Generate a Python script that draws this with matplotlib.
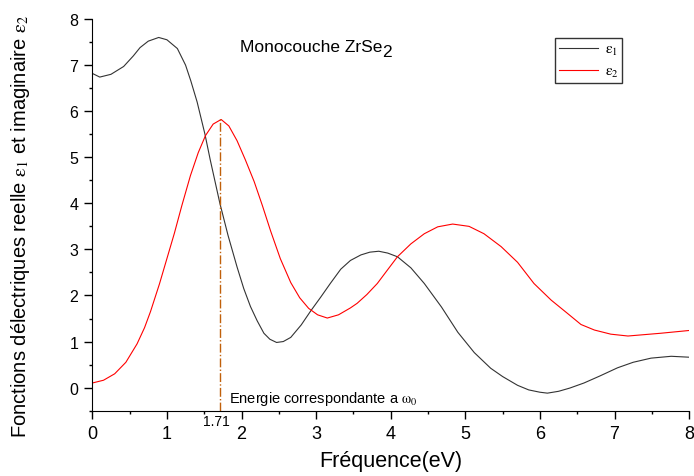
import matplotlib
matplotlib.use('Agg')
from matplotlib import pyplot as plt

plt.rcParams['font.family'] = ['Liberation Sans', 'DejaVu Sans']
plt.rcParams['mathtext.fontset'] = 'stix'

# epsilon 1 (real part)
e1_x = [0, 0.1, 0.25, 0.42, 0.55, 0.64, 0.75, 0.89, 1.0, 1.14, 1.25, 1.32, 1.405, 1.51, 1.58,
        1.71, 1.82, 1.94, 2.03, 2.12, 2.21, 2.3, 2.38, 2.47, 2.56, 2.66, 2.8, 2.93, 3.06, 3.19,
        3.33, 3.46, 3.6, 3.72, 3.84, 3.96, 4.09, 4.27, 4.45, 4.68, 4.9, 5.12, 5.34, 5.5, 5.7,
        5.85, 6.0, 6.1, 6.25, 6.4, 6.59, 6.8, 7.04, 7.25, 7.49, 7.76, 8.0]
e1_y = [6.82, 6.74, 6.8, 6.97, 7.2, 7.38, 7.52, 7.6, 7.55, 7.36, 7.0, 6.66, 6.2, 5.5, 4.95,
        4.0, 3.3, 2.62, 2.15, 1.76, 1.45, 1.18, 1.05, 0.98, 1.0, 1.09, 1.36, 1.67, 1.96, 2.26,
        2.57, 2.76, 2.88, 2.94, 2.96, 2.92, 2.84, 2.6, 2.26, 1.75, 1.2, 0.76, 0.42, 0.24, 0.05,
        -0.05, -0.1, -0.12, -0.08, -0.01, 0.1, 0.25, 0.43, 0.55, 0.64, 0.68, 0.66]

# epsilon 2 (imaginary part)
e2_x = [0, 0.15, 0.3, 0.45, 0.6, 0.7, 0.78, 0.9, 1.0, 1.1, 1.2, 1.315, 1.42, 1.517, 1.62,
        1.727, 1.83, 1.94, 2.05, 2.17, 2.28, 2.39, 2.52, 2.66, 2.78, 2.9, 3.02, 3.15, 3.3,
        3.46, 3.55, 3.68, 3.82, 3.95, 4.09, 4.27, 4.45, 4.63, 4.83, 5.05, 5.25, 5.48, 5.7,
        5.92, 6.15, 6.37, 6.55, 6.73, 6.95, 7.18, 7.4, 7.62, 8.0]
e2_y = [0.1, 0.16, 0.3, 0.55, 0.95, 1.3, 1.65, 2.25, 2.8, 3.35, 3.95, 4.6, 5.1, 5.47, 5.72,
        5.82, 5.68, 5.36, 4.95, 4.47, 3.95, 3.4, 2.8, 2.28, 1.95, 1.72, 1.58, 1.51, 1.58,
        1.73, 1.83, 2.02, 2.26, 2.54, 2.84, 3.12, 3.34, 3.49, 3.55, 3.5, 3.34, 3.06, 2.72,
        2.26, 1.9, 1.61, 1.37, 1.25, 1.16, 1.12, 1.15, 1.18, 1.24]

omega0 = 1.71
peak = 5.82

fig = plt.figure(figsize=(6.94, 4.77), dpi=100)
ax = fig.add_axes([0.133, 0.137, 0.860, 0.821])

ax.plot(e1_x, e1_y, color='#333333', lw=0.8, label=r'$\mathrm{ε}_1$')
ax.plot(e2_x, e2_y, color='red', lw=0.8, label=r'$\mathrm{ε}_2$')
ax.plot([omega0, omega0], [-0.5, peak], color='#c0600a', lw=1, linestyle='-.')

ax.set_xlim(0, 8)
ax.set_ylim(-0.5, 8)
ax.spines['top'].set_visible(False)
ax.spines['right'].set_visible(False)
ax.set_xticks(range(0, 9))
ax.set_xticks([i + 0.5 for i in range(8)], minor=True)
ax.set_yticks(range(0, 9))
ax.set_yticks([i + 0.5 for i in range(-1, 8)], minor=True)
ax.tick_params(which='major', length=6, width=1)
ax.tick_params(which='minor', length=2.5, width=1)
ax.tick_params(axis='x', labelsize=13, pad=4)
ax.tick_params(axis='y', labelsize=11.5, pad=4)

ax.text(1.66, -0.58, '1.71', fontsize=10, ha='center', va='top')
ax.text(1.83, -0.22, r'Energie correspondante a $\mathrm{ω}_0$', fontsize=10.5, ha='left', va='center')
title = ax.text(1.98, 7.3, 'Monocouche ZrSe', fontsize=12.5, ha='left', va='baseline')
ax.annotate('2', xy=(1, 0), xycoords=title, xytext=(-0.5, -3.5), textcoords='offset points',
            fontsize=12.5, ha='left', va='bottom')

ax.set_xlabel('Fréquence(eV)', fontsize=15.5, labelpad=6)
ax.set_ylabel(r'Fonctions délectriques reelle $\mathrm{ε}_1$ et imaginaire $\mathrm{ε}_2$',
              fontsize=14.5)
ax.yaxis.set_label_coords(-0.101, 0.473)

leg = ax.legend(loc='upper right', bbox_to_anchor=(0.888, 0.951), borderaxespad=0,
                fontsize=11, frameon=True, fancybox=False, edgecolor='black',
                handlelength=2.6, handletextpad=0.4, borderpad=0.25, labelspacing=0.45)
leg.get_frame().set_linewidth(1)

plt.savefig('out.png', dpi=100)
